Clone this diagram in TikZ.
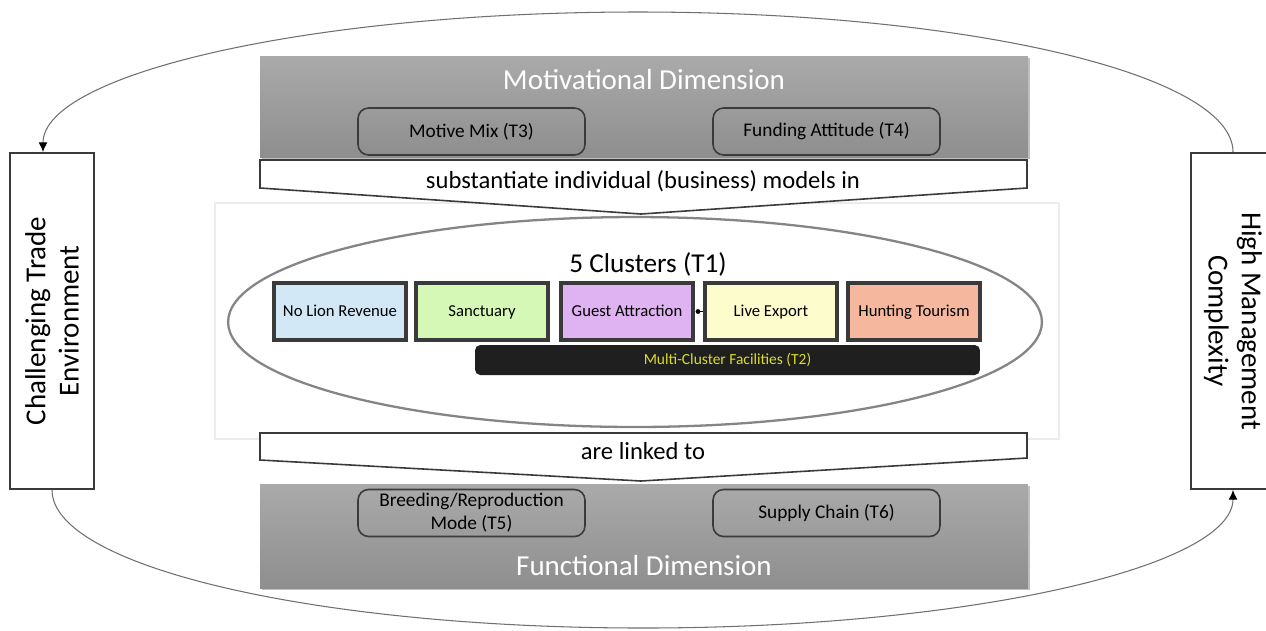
\documentclass[tikz,border=0pt]{standalone}
\usepackage{fontspec}
\setmainfont{Carlito}
\usetikzlibrary{arrows.meta,shapes.geometric,shadows,calc}

\definecolor{panelTop}{HTML}{AAAAAA}
\definecolor{panelBot}{HTML}{8E8E8E}
\definecolor{edgeDark}{HTML}{3A3A3A}
\definecolor{arcGray}{HTML}{707070}
\definecolor{ringGray}{HTML}{858585}
\definecolor{faint}{HTML}{ECECEC}
\definecolor{cBlue}{HTML}{D2E8F7}
\definecolor{cGreen}{HTML}{D5F8B6}
\definecolor{cViolet}{HTML}{DFB3F2}
\definecolor{cYellow}{HTML}{FCFCCD}
\definecolor{cSalmon}{HTML}{F5B89F}
\definecolor{barText}{HTML}{DCDC28}

\tikzset{
  sidebox/.style={draw=edgeDark, line width=1.1pt, fill=white, minimum width=1.68cm,
    minimum height=6.72cm, inner sep=0pt},
  sidetext/.style={font=\fontsize{16.5}{19}\selectfont, align=center, text=black},
  panel/.style={top color=panelTop, bottom color=panelBot, draw=none,
    minimum width=15.36cm, inner sep=0pt,
    drop shadow={shadow xshift=1.2pt, shadow yshift=-1.2pt, opacity=0.25, fill=black}},
  paneltitle/.style={font=\fontsize{16.5}{19}\selectfont, text=white},
  themebox/.style={draw=edgeDark, line width=0.9pt, rounded corners=6pt,
    minimum width=4.54cm, minimum height=0.94cm, align=center,
    font=\fontsize{11}{13}\selectfont, inner sep=0pt},
  flowshape/.style={draw=edgeDark, line width=0.9pt, fill=white},
  flowtext/.style={font=\fontsize{14}{16}\selectfont},
  cluster/.style={draw=edgeDark, line width=1.8pt, minimum width=2.64cm,
    minimum height=1.14cm, inner sep=0pt, text height=1.55ex, text depth=0.45ex,
    font=\fontsize{9.5}{11}\selectfont},
  arc/.style={draw=arcGray, line width=0.6pt},
  tip/.style={-{Latex[length=5.5pt,width=5pt,fill=black,color=black]}}
}

\begin{document}
\begin{tikzpicture}[x=0.02cm, y=-0.02cm]
\useasboundingbox (0,0) rectangle (1266,630);
\clip (0,0) rectangle (1266,630);
\fill[white] (0,0) rectangle (1266,630);

% outer context boxes
\node[sidebox] (cte) at (52,321) {};
\node[sidetext, rotate=90] at (cte.center) {Challenging Trade\\Environment};
\node[sidebox] (hmc) at (1233,321) {};
\node[sidetext, rotate=-90] at (hmc.center) {High Management\\Complexity};

% feedback loop between the two context boxes
\coordinate (topmid) at (638,12);
\coordinate (botmid) at (643,628);
\coordinate (cteTop) at ([xshift=-0.18cm]cte.north);
\draw[arc, tip] (hmc.north) .. controls ($(hmc.north)+(0,-78)$) and ($(topmid)+(329,0)$) .. (topmid)
  .. controls ($(topmid)+(-329,0)$) and ($(cteTop)+(0,-78)$) .. (cteTop);
\draw[arc, tip] (cte.south) .. controls ($(cte.south)+(0,77)$) and ($(botmid)+(-326,0)$) .. (botmid)
  .. controls ($(botmid)+(326,0)$) and ($(hmc.south)+(0,77)$) .. (hmc.south);

% white stage holding the cluster ellipse
\draw[faint, line width=0.6pt, fill=white] (215,203) rectangle (1059,439);

% motivational dimension
\node[panel, minimum height=2.02cm] (mot) at (644,106.5) {};
\node[paneltitle] (motTitle) at (644,80) {Motivational Dimension};
\node[themebox] (mix) at (471.5,131.5) {Motive Mix (T3)};
\node[themebox] (fund) at (826.5,131.5) {Funding Attitude (T4)};

% clusters
\node[draw=ringGray, line width=1.3pt, ellipse, minimum width=16.28cm,
  minimum height=4.2cm, inner sep=0pt] (ring) at (635,322) {};
\node[font=\fontsize{15.5}{18}\selectfont] (clTitle) at (648,264) {5 Clusters (T1)};
\node[cluster, fill=cBlue] (c1) at (340,311.5) {No Lion Revenue};
\node[cluster, fill=cGreen] (c2) at (482,311.5) {Sanctuary};
\node[cluster, fill=cViolet] (c3) at (627,311.5) {Guest Attraction};
\node[cluster, fill=cYellow] (c4) at (771,311.5) {Live Export};
\node[cluster, fill=cSalmon] (c5) at (914,311.5) {Hunting Tourism};
\node[fill=black!88, rounded corners=3pt, minimum width=10.1cm, minimum height=0.6cm,
  inner sep=0pt, text=barText, font=\fontsize{8.8}{10}\selectfont] (multi) at (727.5,360)
  {Multi-Cluster Facilities (T2)};
\coordinate (dot) at (698,311.5);
\fill[black] (dot) circle (2.4);
\draw[black, line width=0.5pt] (dot) -- (c4.west);

% link arrows
\coordinate (a1) at (260,160); \coordinate (a2) at (1027,160);
\coordinate (a3) at (1027,188); \coordinate (a4) at (641,214); \coordinate (a5) at (260,188);
\draw[flowshape] (a1) -- (a2) -- (a3) -- (a4) -- (a5) -- cycle;
\node[flowtext] (subst) at (643,181) {substantiate individual (business) models in};

\coordinate (b1) at (260,433); \coordinate (b2) at (1027,433);
\coordinate (b3) at (1027,458); \coordinate (b4) at (641,481); \coordinate (b5) at (260,460);
\draw[flowshape] (b1) -- (b2) -- (b3) -- (b4) -- (b5) -- cycle;
\node[flowtext] (linked) at (643,451) {are linked to};

% functional dimension
\node[panel, minimum height=2.08cm] (fun) at (644,536) {};
\node[themebox] (breed) at (471.5,513) {Breeding/Reproduction\\Mode (T5)};
\node[themebox] (supply) at (826.5,513) {Supply Chain (T6)};
\node[paneltitle] (funTitle) at (644,566) {Functional Dimension};
\end{tikzpicture}
\end{document}
